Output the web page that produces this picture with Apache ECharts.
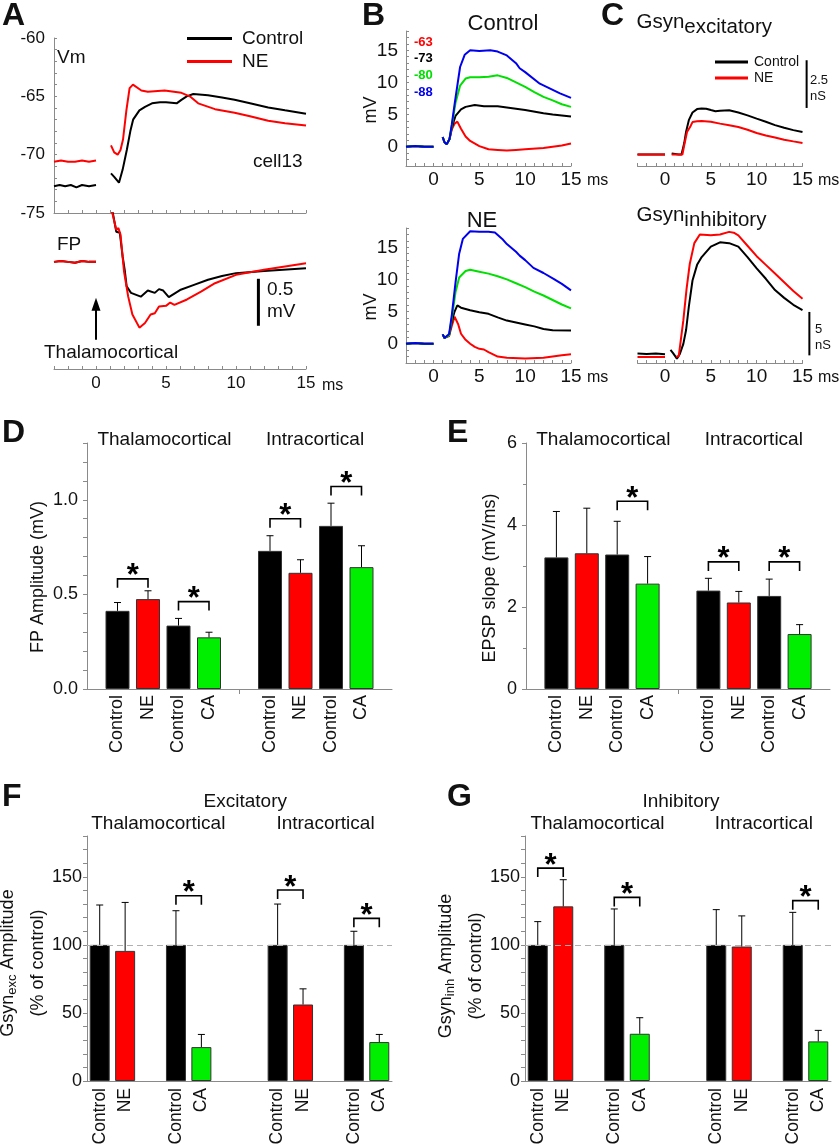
<!DOCTYPE html>
<html><head><meta charset="utf-8">
<script src="https://cdn.jsdelivr.net/npm/echarts@6/dist/echarts.min.js"></script>
<style>html,body{margin:0;padding:0;background:#fff}#c{width:840px;height:1148px}</style>
</head><body><div id="c"></div>
<script>
const FONT = "'Liberation Sans', Arial, Helvetica, sans-serif";

// ---------- Panel A: membrane potential (mV) and field potential (mV) vs time (ms)
const vmCtlBase = [[-3,-72.7],[-2.6,-72.6],[-2.2,-72.7],[-1.8,-72.6],[-1.4,-72.8],[-1,-72.6],[-0.5,-72.7],[0,-72.6]];
const vmNeBase  = [[-3,-70.6],[-2.5,-70.5],[-2,-70.6],[-1.5,-70.6],[-1,-70.5],[-0.5,-70.6],[0,-70.5]];
const vmCtl = [[1.07,-71.6],[1.3,-71.9],[1.64,-72.4],[1.9,-71.3],[2.2,-69.6],[2.45,-68.0],[2.65,-67.0],[3.1,-66.2],[3.5,-65.9],[4,-65.6],[4.57,-65.5],[5,-65.5],[5.76,-65.6],[6.1,-65.3],[6.48,-65.0],[6.95,-64.8],[8,-64.9],[9,-65.1],[9.9,-65.3],[11,-65.6],[12.3,-65.95],[13.5,-66.2],[15,-66.5]];
const vmNe  = [[1.07,-69.2],[1.3,-69.8],[1.55,-70.0],[1.75,-69.6],[1.93,-68.7],[2.17,-66.2],[2.4,-64.3],[2.64,-64.0],[3.24,-64.5],[3.7,-64.6],[4.9,-64.5],[6.1,-64.7],[6.7,-65.0],[7.3,-65.6],[8.5,-66.1],[9.9,-66.4],[11,-66.7],[12.3,-67.1],[13.5,-67.3],[15,-67.5]];
const fpBase = [[-3,0],[-2.5,0.01],[-2,0],[-1.5,-0.01],[-1,0.01],[-0.5,0],[0,0]];
const fpCtl = [[1.0,0.6],[1.2,0.52],[1.45,0.32],[1.7,0.31],[1.9,0.06],[2.05,-0.085],[2.19,-0.26],[2.5,-0.33],[3.2,-0.37],[3.7,-0.305],[4.2,-0.33],[4.5,-0.29],[4.8,-0.305],[5.2,-0.375],[6,-0.30],[7,-0.245],[8,-0.19],[9,-0.15],[10,-0.12],[12,-0.096],[15,-0.067]];
const fpNe  = [[1.0,0.6],[1.2,0.5],[1.45,0.34],[1.6,0.36],[1.75,0.29],[2.0,-0.10],[2.3,-0.37],[2.6,-0.56],[3.1,-0.70],[3.5,-0.65],[3.9,-0.56],[4.2,-0.546],[4.5,-0.475],[5,-0.468],[5.3,-0.433],[5.6,-0.457],[6.5,-0.40],[7.5,-0.316],[8.5,-0.227],[10,-0.138],[12,-0.085],[15,-0.014]];

// ---------- Panel B: EPSPs (mV) at four holding potentials
const holdLabels = ['-63','-73','-80','-88'];
const holdColors = ['#ff0000','#000000','#00e000','#0000ee'];
const bBase = [[-3,0],[-2,0.1],[-1,0],[0,0]];
const bCtl = [
  [[1.0,1.5],[1.2,0.7],[1.45,0.4],[1.75,1.2],[2.0,2.7],[2.3,3.6],[2.6,3.9],[3,2.8],[3.5,1.6],[4,0.9],[5,0.1],[6,-0.4],[7,-0.5],[8,-0.6],[9,-0.5],[10,-0.4],[12,-0.2],[13,0],[14,0.2],[15,0.5]],
  [[1.0,1.5],[1.2,0.7],[1.45,0.4],[1.75,1.2],[2.0,3.0],[2.4,4.8],[3,5.8],[3.5,6.2],[4.5,6.5],[5.5,6.3],[7,6.3],[8,6.1],[9,5.9],[10,5.7],[12,5.2],[13,5.0],[15,4.7]],
  [[1.0,1.5],[1.2,0.7],[1.45,0.4],[1.75,1.2],[2.0,3.3],[2.4,6.8],[2.9,9.5],[3.5,10.6],[4,10.8],[5,10.8],[6,10.9],[7,11.1],[8,10.7],[9,10.0],[10,9.3],[11,8.5],[12,7.75],[13,7.2],[14,6.6],[15,6.2]],
  [[1.0,1.5],[1.2,0.7],[1.45,0.4],[1.75,1.2],[2.0,3.5],[2.36,7.2],[2.9,12.4],[3.4,14.3],[4,15.0],[5,14.9],[6.2,15.0],[7,14.8],[8,14.2],[9,13.0],[9.4,12.2],[10,11.6],[11.6,9.8],[12.5,9.2],[13.8,8.3],[15,7.6]]
];
const bNe = [
  [[1.0,1.45],[1.2,0.9],[1.4,0.6],[1.7,1.2],[2.0,2.8],[2.3,4.2],[2.47,4.4],[2.7,3.0],[3,1.55],[3.5,0.6],[4,0],[4.5,-0.5],[5,-0.8],[5.5,-0.9],[6,-1.3],[7,-2.0],[8,-2.2],[10,-2.3],[12,-2.2],[14,-1.8],[15,-1.65]],
  [[1.0,1.45],[1.2,0.9],[1.4,0.6],[1.7,1.3],[2.0,3.5],[2.3,5.0],[2.6,5.95],[3,5.6],[4,5.2],[5,4.9],[6,4.65],[7,4.1],[8,3.6],[9,3.3],[10,3.0],[11,2.7],[12,2.3],[13,2.1],[15,2.07]],
  [[1.0,1.45],[1.2,0.9],[1.4,0.6],[1.7,1.3],[2.0,4.0],[2.4,8.0],[2.8,10.3],[3.5,11.3],[4,11.5],[5,11.2],[6,10.9],[7,10.5],[8,10.0],[9,9.4],[10,8.8],[11,8.1],[12,7.5],[13,6.8],[14,6.1],[15,5.5]],
  [[1.0,1.45],[1.2,0.9],[1.4,0.8],[1.7,1.5],[2.0,4.5],[2.4,9.5],[2.8,14.0],[3.2,16.3],[4,17.5],[5,17.4],[6,17.4],[6.7,17.3],[7.5,16.3],[8,15.5],[9,14.3],[9.4,13.7],[10,13.0],[10.9,11.8],[12,11.0],[13.1,10.1],[14,9.3],[15,8.3]]
];

// ---------- Panel C: synaptic conductances (nS)
const gExcCtlBase = [[-3,0],[-1.5,0],[0,0]];
const gExcNeBase  = [[-3,0],[-1.5,0],[0,0]];
const gExcCtl = [[0.73,0.05],[1.5,0],[1.8,0],[2.1,0.6],[2.3,1.2],[2.6,1.8],[3,2.2],[3.5,2.38],[4,2.41],[4.5,2.4],[5,2.33],[5.5,2.27],[6,2.3],[7,2.32],[8,2.2],[9,2.05],[10,1.88],[11,1.72],[12,1.54],[13,1.4],[14,1.28],[15,1.18]];
const gExcNe  = [[0.73,0],[1.5,0],[1.9,0],[2.1,0.5],[2.4,1.18],[2.8,1.5],[3,1.7],[3.5,1.74],[4,1.76],[5,1.72],[6,1.62],[7,1.53],[8,1.44],[9,1.3],[10,1.13],[11,1.0],[12,0.89],[13,0.78],[14,0.69],[15,0.61]];
const gInhCtlBase = [[-3,0.1],[-2,0.05],[-1,0.1],[0,0]];
const gInhNeBase  = [[-3,-0.3],[-1.5,-0.3],[0,-0.3]];
const gInhCtl = [[0.6,0.5],[0.9,0.1],[1.3,-0.5],[1.6,0],[2.0,1.2],[2.3,2.8],[2.6,5.5],[3,8.5],[3.5,10.3],[4,11.2],[5,12.4],[6,12.9],[7,12.8],[8,12.4],[9,11.2],[10,9.9],[11,8.7],[12,7.4],[13,6.5],[14,5.7],[15,5.1]];
const gInhNe  = [[1.2,-0.3],[1.5,-0.2],[2.0,3.9],[2.35,7.5],[2.7,10.4],[3.2,12.8],[3.8,13.8],[5,13.7],[6,13.8],[7,14.1],[7.5,14.0],[8,13.7],[9,12.5],[10,11.3],[11,10.3],[12,9.3],[13,8.3],[14,7.3],[15,6.4]];

// ---------- Panels D, E: bar data (mean, SEM)
const barCats = ['', 'Control', 'NE', 'Control', 'CA', '', 'Control', 'NE', 'Control', 'CA', ''];
const fpMean = [null, 0.413, 0.475, 0.335, 0.273, null, 0.730, 0.614, 0.862, 0.644, null];
const fpSem  = [null, 0.044, 0.044, 0.038, 0.027, null, 0.080, 0.069, 0.120, 0.113, null];
const slopeMean = [null, 3.21, 3.31, 3.28, 2.57, null, 2.40, 2.11, 2.27, 1.34, null];
const slopeSem  = [null, 1.12, 1.10, 0.81, 0.66, null, 0.30, 0.27, 0.41, 0.23, null];
// ---------- Panels F, G
const gCats = ['Control', 'NE', '', 'Control', 'CA', '', '', 'Control', 'NE', '', 'Control', 'CA'];
const excMean = [100, 95.6, null, 100, 24.9, null, null, 100, 56.2, null, 100, 28.6];
const excSem  = [29.3, 35.6, null, 25.1, 9.3, null, null, 30.0, 11.5, null, 10.0, 5.6];
const inhMean = [100, 128.3, null, 100, 34.7, null, null, 100, 98.8, null, 100, 29.1];
const inhSem  = [17.1, 19.6, null, 26.4, 11.8, null, null, 25.9, 22.5, null, 23.9, 8.1];
// significance brackets: [from category, to category, bracket level]
const sigD = [[1,2,0.582],[3,4,0.462],[6,7,0.90],[8,9,1.07]];
const sigE = [[3,4,4.58],[6,7,3.10],[8,9,3.10]];
const sigF = [[3,4,136.1],[7,8,140.3],[10,11,119.5]];
const sigG = [[0,1,156.4],[3,4,134.9],[10,11,132.5]];

const condColor = {'Control':'#000000','NE':'#ff0000','CA':'#00ee00'};
const AX = '#8a8a8a';

const chart = echarts.init(document.getElementById('c'), null, {renderer:'canvas', width:840, height:1148});

function grid(left, top, width, height) { return {left, top, width, height, outerBoundsMode:'none'}; }
function tAxis(g, show, fs, margin) {
  return { type:'value', gridIndex:g, min:-3, max:15, interval:1,
    axisLine:{show:true, onZero:false, lineStyle:{color:AX, width:1}},
    axisTick:{show:true, inside:true, length:3, lineStyle:{color:AX}},
    axisLabel:{show:show, fontSize:fs, color:'#111', margin:margin, fontFamily:FONT,
      formatter: v => (v % 5 === 0 ? String(v) : '')},
    splitLine:{show:false} };
}
function hidY(g, min, max) { return {type:'value', gridIndex:g, min, max, show:false, splitLine:{show:false}}; }
function valY(g, min, max, interval, fs, margin, fmt, inside) {
  return { type:'value', gridIndex:g, min, max, interval,
    axisLine:{show:true, onZero:false, lineStyle:{color:AX}},
    axisTick:{show:true, inside:!!inside, length:inside?3:4, lineStyle:{color:AX}},
    axisLabel:{fontSize:fs, color:'#111', margin, fontFamily:FONT, formatter:fmt},
    splitLine:{show:false} };
}
function catX(g, cats, gap, fs, margin, tickFn) {
  return { type:'category', gridIndex:g, data:cats, boundaryGap:gap,
    axisLine:{show:true, onZero:false, lineStyle:{color:AX}},
    axisTick:{show:!!tickFn, interval:tickFn || 0, length:5, lineStyle:{color:AX}},
    axisLabel:{interval:0, rotate:90, fontSize:fs, margin, color:'#111', fontFamily:FONT},
    splitLine:{show:false} };
}
function trace(name, color, data, g, w) {
  return {type:'line', name, data, xAxisIndex:g, yAxisIndex:g, showSymbol:false, symbol:'none',
    lineStyle:{color, width:w||2}, itemStyle:{color}, silent:true, z:3};
}
function errRender(params, api) {
  const x = api.value(0), m = api.value(1), e = api.value(2);
  const p0 = api.coord([x, m]), p1 = api.coord([x, m + e]);
  const w = 3.5;
  return {type:'group', children:[
    {type:'line', shape:{x1:p0[0], y1:p0[1], x2:p1[0], y2:p1[1]}, style:{stroke:'#000', lineWidth:1}},
    {type:'line', shape:{x1:p1[0]-w, y1:p1[1], x2:p1[0]+w, y2:p1[1]}, style:{stroke:'#000', lineWidth:1}}
  ]};
}
function sigRender(params, api) {
  const a = api.value(0), b = api.value(1), lvl = api.value(2);
  const p1 = api.coord([a, lvl]), p2 = api.coord([b, lvl]);
  const drop = 9;
  return {type:'group', children:[
    {type:'polyline', shape:{points:[[p1[0],p1[1]+drop],[p1[0],p1[1]],[p2[0],p2[1]],[p2[0],p2[1]+drop]]},
      style:{stroke:'#000', lineWidth:1.6, fill:null}},
    {type:'text', x:(p1[0]+p2[0])/2, y:p1[1]-2,
      style:{text:'*', font:'bold 31px ' + FONT, textAlign:'center', textVerticalAlign:'middle', fill:'#000'}}
  ]};
}
function barSet(g, cats, mean, sem, sig, bw, dashed) {
  const bar = {type:'bar', name:'bars'+g, xAxisIndex:g, yAxisIndex:g, barWidth:bw, silent:true,
    data: mean.map(v => v == null ? '-' : v),
    itemStyle:{color: p => condColor[cats[p.dataIndex]] || '#000', borderColor:'#333', borderWidth:1}, z:2};
  if (dashed) bar.markLine = {silent:true, symbol:['none','none'], label:{show:false},
    lineStyle:{type:[6,4], color:'#b0b0b0', width:1.2}, data:[{yAxis:100}]};
  const err = {type:'custom', name:'err'+g, xAxisIndex:g, yAxisIndex:g, renderItem:errRender, silent:true, z:3,
    encode:{x:0, y:1},
    data: mean.map((m,i) => m == null ? null : [i, m, sem[i]]).filter(Boolean)};
  const s = {type:'custom', name:'sig'+g, xAxisIndex:g, yAxisIndex:g, renderItem:sigRender, silent:true, z:4,
    encode:{x:0, y:2}, data: sig};
  return [bar, err, s];
}

const fmt5 = v => (v % 5 === 0 ? String(v) : '');
const option = {
  animation:false,
  backgroundColor:'#fff',
  textStyle:{fontFamily:FONT},
  grid:[
    grid(54,38,252,175),      // A Vm
    grid(54,213,252,156),     // A FP
    grid(406,31,165,135),     // B control
    grid(406,228,165,135),    // B NE
    grid(637.5,40,165,126),   // C exc
    grid(637.5,198,165,165),  // C inh
    grid(87,443,305,246),     // D
    grid(526,443,304,246),    // E
    grid(87,836,305,245),     // F
    grid(525,836,306,245)     // G
  ],
  xAxis:[
    tAxis(0,false,17,6), tAxis(1,true,17,6),
    tAxis(2,true,19,4), tAxis(3,true,19,4),
    tAxis(4,true,19,4), tAxis(5,true,19,4),
    catX(6, barCats, false, 18, 6, i => i === 5),
    catX(7, barCats, false, 18, 6, i => i === 5),
    catX(8, gCats, true, 17.5, 7, null),
    catX(9, gCats, true, 17.5, 7, null)
  ],
  yAxis:[
    valY(0,-75,-60,1,17,9,fmt5,true),
    hidY(1,-1.14,0.52),
    valY(2,-3,18,1,19,8,fmt5,true),
    valY(3,-3,18,1,19,8,fmt5,true),
    hidY(4,-0.6,6),
    hidY(5,-1,18),
    valY(6,0,1.3,0.1,18,9, v => { const k = Math.round(v*10); return k % 5 === 0 ? (k/10).toFixed(1) : ''; }),
    Object.assign(valY(7,0,6,2,18,9, v => String(v)), {minorTick:{show:true, splitNumber:2, length:3, lineStyle:{color:AX}}}),
    valY(8,0,180,10,18,5, v => (v % 50 === 0 ? String(v) : '')),
    valY(9,0,180,10,18,5, v => (v % 50 === 0 ? String(v) : ''))
  ],
  legend:[
    {data:['Control','NE'], orient:'vertical', left:187, top:29, itemWidth:45, itemHeight:3, icon:'rect',
      itemGap:4, padding:0, selectedMode:false, textStyle:{fontSize:19, color:'#111', fontFamily:FONT, padding:[0,0,0,5]}},
    {data:['Control','NE'], orient:'vertical', left:715, top:55, itemWidth:33, itemHeight:3, icon:'rect',
      itemGap:2, padding:0, selectedMode:false, textStyle:{fontSize:14, color:'#111', fontFamily:FONT, padding:[0,0,0,1]}}
  ],
  series:[]
};
const S = option.series;
// A
S.push(trace('Control','#000',vmCtlBase,0), trace('Control','#000',vmCtl,0),
       trace('NE','#ff0000',vmNeBase,0), trace('NE','#ff0000',vmNe,0));
S.push(trace('Control','#000',fpBase,1), trace('Control','#000',fpCtl,1),
       trace('NE','#ff0000',fpBase,1), trace('NE','#ff0000',fpNe,1));
// B
for (let k = 0; k < 4; k++) {
  S.push(trace(holdLabels[k], holdColors[k], bBase, 2), trace(holdLabels[k], holdColors[k], bCtl[k], 2));
  S.push(trace(holdLabels[k]+' NE', holdColors[k], bBase, 3), trace(holdLabels[k]+' NE', holdColors[k], bNe[k], 3));
}
// C
S.push(trace('Control','#000',gExcCtlBase,4), trace('Control','#000',gExcCtl,4),
       trace('NE','#ff0000',gExcNeBase,4), trace('NE','#ff0000',gExcNe,4));
S.push(trace('Control','#000',gInhCtlBase,5), trace('Control','#000',gInhCtl,5),
       trace('NE','#ff0000',gInhNeBase,5), trace('NE','#ff0000',gInhNe,5));
// D-G
S.push(...barSet(6, barCats, fpMean, fpSem, sigD, 24, false));
S.push(...barSet(7, barCats, slopeMean, slopeSem, sigE, 24, false));
S.push(...barSet(8, gCats, excMean, excSem, sigF, 20, true));
S.push(...barSet(9, gCats, inhMean, inhSem, sigG, 20, true));

chart.setOption(option);

// ---------- annotations (texts, scale bars, arrow)
function txt(text, x, y, size, align, opts) {
  opts = opts || {};
  return {type:'text', x, y, rotation: opts.rot || 0, silent:true, z:10,
    style:{text, fill: opts.color || '#111', font:(opts.bold ? 'bold ' : '') + size + 'px ' + FONT,
      textAlign: align || 'left', textVerticalAlign: opts.va || 'middle', rich: opts.rich}};
}
const px = (g, x, y) => chart.convertToPixel({gridIndex:g}, [x, y]);
function vbar(g, x, y1, y2, w) {
  const a = px(g, x, y1), b = px(g, x, y2);
  return {type:'line', silent:true, z:10, shape:{x1:a[0], y1:a[1], x2:b[0], y2:b[1]}, style:{stroke:'#000', lineWidth:w}};
}
const arrowTail = px(1, 0, -0.83), arrowTip = px(1, 0, -0.383);
const subRich = {
  n:{fontSize:18, fontFamily:FONT, color:'#111', lineHeight:30, verticalAlign:'top'},
  s:{fontSize:13, fontFamily:FONT, color:'#111', lineHeight:14, verticalAlign:'top', padding:[7,0,0,0]}
};
const titleRich = {
  a:{fontSize:20.5, fontFamily:FONT, color:'#111', lineHeight:22, verticalAlign:'top'},
  b:{fontSize:20.5, fontFamily:FONT, color:'#111', lineHeight:22, verticalAlign:'top', padding:[5,0,0,0]}
};
const G = [
  // panel letters
  txt('A', 2, 16, 32, 'left', {bold:true}), txt('B', 362, 16, 32, 'left', {bold:true}),
  txt('C', 601, 16, 32, 'left', {bold:true}), txt('D', 2, 433, 32, 'left', {bold:true}),
  txt('E', 447, 433, 32, 'left', {bold:true}), txt('F', 2, 797, 32, 'left', {bold:true}),
  txt('G', 447, 797, 32, 'left', {bold:true}),
  // A
  txt('Vm', 57, 58, 19), txt('cell13', 253, 162, 19), txt('FP', 57, 245, 19),
  txt('Thalamocortical', 44, 353, 19), txt('0.5', 267, 290, 19), txt('mV', 267, 312, 19),
  txt('ms', 322, 386, 16),
  vbar(1, 11.6, -0.18, -0.68, 3),
  {type:'line', silent:true, z:10, shape:{x1:arrowTail[0], y1:arrowTail[1], x2:arrowTip[0], y2:arrowTip[1]+10}, style:{stroke:'#000', lineWidth:2}},
  {type:'polygon', silent:true, z:10, shape:{points:[[arrowTip[0], arrowTip[1]], [arrowTip[0]-4.5, arrowTip[1]+13], [arrowTip[0]+4.5, arrowTip[1]+13]]}, style:{fill:'#000'}},
  // B
  txt('Control', 503, 24, 22, 'center'), txt('NE', 482, 221, 22, 'center'),
  txt('mV', 371, 110, 18, 'center', {rot:Math.PI/2}), txt('mV', 371, 307, 18, 'center', {rot:Math.PI/2}),
  txt('ms', 587, 181, 16), txt('ms', 587, 378, 16),
  txt(holdLabels[0], 414, 42, 13, 'left', {bold:true, color:holdColors[0]}),
  txt(holdLabels[1], 414, 58.5, 13, 'left', {bold:true, color:holdColors[1]}),
  txt(holdLabels[2], 414, 75.5, 13, 'left', {bold:true, color:holdColors[2]}),
  txt(holdLabels[3], 414, 92, 13, 'left', {bold:true, color:holdColors[3]}),
  // C
  txt('{a|Gsyn}{b|excitatory}', 636.5, 12, 20.5, 'left', {va:'top', rich:titleRich}),
  txt('{a|Gsyn}{b|inhibitory}', 636.5, 205, 20.5, 'left', {va:'top', rich:titleRich}),
  txt('ms', 818, 181, 16), txt('ms', 818, 378, 16),
  txt('2.5', 810, 80.5, 13), txt('nS', 810, 96, 13),
  txt('5', 815, 329, 13), txt('nS', 815, 345.5, 13),
  vbar(4, 15.45, 4.94, 2.44, 2), vbar(5, 15.75, 4.88, -0.12, 2),
  // D
  txt('Thalamocortical', 164.5, 440, 19, 'center'), txt('Intracortical', 315, 440, 19, 'center'),
  txt('FP Amplitude (mV)', 38, 577, 18, 'center', {rot:Math.PI/2}),
  // E
  txt('Thalamocortical', 603.3, 440, 19, 'center'), txt('Intracortical', 753.8, 440, 19, 'center'),
  txt('EPSP slope (mV/ms)', 490, 578, 18, 'center', {rot:Math.PI/2}),
  // F
  txt('Excitatory', 245.3, 801.5, 19, 'center'),
  txt('Thalamocortical', 158.3, 823.5, 19, 'center'), txt('Intracortical', 325.5, 823.5, 19, 'center'),
  txt('{n|Gsyn}{s|exc}{n| Amplitude}\n{n|(% of control)}', 29, 963, 18, 'center', {rot:Math.PI/2, rich:subRich}),
  // G
  txt('Inhibitory', 681, 801.5, 19, 'center'),
  txt('Thalamocortical', 597.5, 823.5, 19, 'center'), txt('Intracortical', 763.8, 823.5, 19, 'center'),
  txt('{n|Gsyn}{s|inh}{n| Amplitude}\n{n|(% of control)}', 467, 966, 18, 'center', {rot:Math.PI/2, rich:subRich})
];
chart.setOption({graphic: G});
</script></body></html>
